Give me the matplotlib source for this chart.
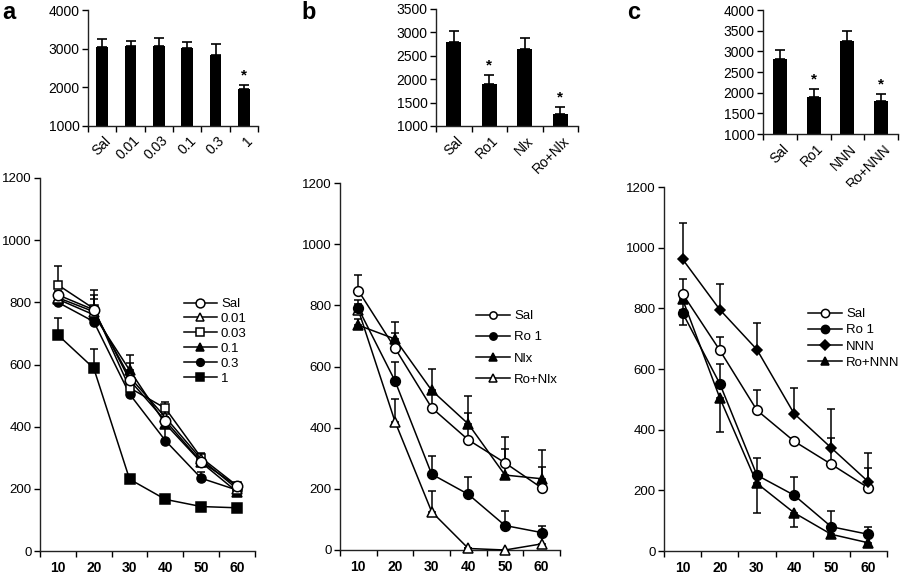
import numpy as np
import matplotlib
matplotlib.use("Agg")
import matplotlib.pyplot as plt
import matplotlib.transforms as mtransforms

plt.rcParams['font.family'] = ['Liberation Sans', 'DejaVu Sans']

# ---------------- data ----------------
time_labels = ['10', '20', '30', '40', '50', '60']

# panel a bars
a_bar_labels = ['Sal', '0.01', '0.03', '0.1', '0.3', '1']
a_bar_values = [3050, 3075, 3075, 3020, 2825, 1950]
a_bar_err = [200, 120, 205, 140, 300, 110]
a_bar_star = [False, False, False, False, False, True]

# panel b bars
b_bar_labels = ['Sal', 'Ro1', 'Nlx', 'Ro+Nlx']
b_bar_values = [2805, 1895, 2640, 1250]
b_bar_err = [215, 200, 250, 158]
b_bar_star = [False, True, False, True]

# panel c bars
c_bar_labels = ['Sal', 'Ro1', 'NNN', 'Ro+NNN']
c_bar_values = [2818, 1900, 3244, 1796]
c_bar_err = [217, 194, 241, 169]
c_bar_star = [False, True, False, True]

# panel a lines (upper error only)
a_sal = [824, 776, 550, 419, 287, 209]
a_001 = [815, 770, 560, 430, 295, 200]
a_003 = [856, 780, 525, 459, 300, 210]
a_01 = [810, 760, 582, 409, 285, 190]
a_03 = [800, 738, 505, 355, 234, 196]
a_1 = [695, 588, 231, 166, 143, 139]
a_sal_err = [12, 46, 12, 12, 12, 10]
a_001_err = [12, 40, 44, 12, 19, 10]
a_003_err = [60, 60, 12, 21, 12, 10]
a_01_err = [12, 12, 50, 12, 12, 10]
a_03_err = [12, 12, 12, 40, 21, 10]
a_1_err = [54, 61, 10, 10, 10, 10]

# panel b lines (upper error only)
b_sal = [848, 660, 465, 360, 285, 203]
b_ro1 = [790, 553, 248, 182, 80, 57]
b_nlx = [735, 690, 522, 412, 245, 233]
b_ronlx = [785, 420, 125, 5, 0, 20]
b_sal_err = [50, 50, 55, 87, 44, 70]
b_ro1_err = [28, 61, 60, 58, 49, 23]
b_nlx_err = [20, 55, 70, 91, 125, 95]
b_ronlx_err = [20, 74, 69, 0, 0, 29]

# panel c lines (Ro+NNN lower error, others upper)
c_sal = [848, 662, 464, 362, 286, 208]
c_ro1 = [785, 552, 250, 184, 80, 55]
c_nnn = [962, 796, 664, 453, 340, 228]
c_ronnn = [830, 505, 223, 126, 55, 27]
c_sal_err = [50, 44, 68, 10, 87, 66]
c_ro1_err = [10, 63, 58, 59, 52, 25]
c_nnn_err = [119, 83, 88, 85, 127, 94]
c_ronnn_err = [86, 114, 97, 46, 10, 10]

# ---------------- figure ----------------
W, H = 900, 577
fig = plt.figure(figsize=(9, 5.77), dpi=100)


def px_axes(left, right, top, bottom):
    return fig.add_axes([left / W, 1 - bottom / H, (right - left) / W, (bottom - top) / H])


def style_axes(ax, ysize=9.5):
    for s in ['top', 'right']:
        ax.spines[s].set_visible(False)
    for s in ['left', 'bottom']:
        ax.spines[s].set_linewidth(1.0)
        ax.spines[s].set_color('#222222')
    ax.tick_params(axis='y', direction='out', length=4, width=1, labelsize=ysize, pad=2)


def bar_panel(ax, labels, values, err, stars, ymin, ymax, ystep):
    n = len(labels)
    x = np.arange(n)
    ax.bar(x, values, width=0.42, color='black', zorder=2)
    ax.errorbar(x, values, yerr=[np.zeros(n), err], fmt='none', ecolor='black',
                elinewidth=1.2, capsize=3.5, capthick=1.2, zorder=3)
    for xi, v, e, s in zip(x, values, err, stars):
        if s:
            ax.annotate('*', (xi, v + e), xytext=(0, 2), textcoords='offset points',
                        ha='center', va='bottom', fontsize=11, fontweight='bold')
    ax.set_xlim(-0.5, n - 0.5)
    ax.set_ylim(ymin, ymax)
    ax.set_yticks(np.arange(ymin, ymax + 1, ystep))
    style_axes(ax, ysize=10)
    ax.set_xticks(np.arange(-0.5, n, 1.0))
    ax.set_xticklabels([])
    ax.tick_params(axis='x', which='major', direction='out', length=4, width=1)
    ax.set_xticks(x, minor=True)
    ax.set_xticklabels(labels, minor=True, rotation=45, ha='right', va='center',
                       rotation_mode='anchor', fontsize=10)
    ax.tick_params(axis='x', which='minor', length=0, pad=9)
    off = mtransforms.ScaledTranslation(7 / 100, 0, fig.dpi_scale_trans)
    for lab in ax.get_xticklabels(minor=True):
        lab.set_transform(lab.get_transform() + off)


def line_panel(ax):
    n = len(time_labels)
    ax.set_xlim(-0.5, n - 0.5)
    ax.set_ylim(0, 1200)
    ax.set_yticks(np.arange(0, 1201, 200))
    style_axes(ax)
    ax.set_xticks(np.arange(-0.5, n, 1.0))
    ax.set_xticklabels([])
    ax.tick_params(axis='x', which='major', direction='out', length=4, width=1)
    ax.set_xticks(np.arange(n), minor=True)
    ax.set_xticklabels(time_labels, minor=True, fontsize=10, fontweight='bold')
    ax.tick_params(axis='x', which='minor', length=0, pad=7)


def series(ax, y, err, marker, filled, label, ms=6.5, lower=False, z=3):
    n = len(y)
    x = np.arange(n)
    yerr = [err, np.zeros(n)] if lower else [np.zeros(n), err]
    ax.errorbar(x, y, yerr=yerr, fmt='none', ecolor='black', elinewidth=1.1,
                capsize=3.2, capthick=1.1, zorder=z, clip_on=False)
    ax.plot(x, y, color='black', lw=1.1, marker=marker, ms=ms,
            mfc='black' if filled else 'white', mec='black', mew=1.1,
            label=label, zorder=z + 1, clip_on=False)


def add_legend(ax, order, x0, y0, spacing, hl=2.4, ms_scale=0.85):
    h, l = ax.get_legend_handles_labels()
    hd = dict(zip(l, h))
    ax.legend([hd[k] for k in order], order, loc='upper left',
              bbox_to_anchor=(x0 / W, 1 - y0 / H), bbox_transform=fig.transFigure,
              frameon=False, fontsize=9.5, handlelength=hl, handletextpad=0.3,
              labelspacing=spacing, borderaxespad=0, borderpad=0, markerscale=ms_scale)


# top bar panels
ax_a1 = px_axes(88, 258, 10, 126)
bar_panel(ax_a1, a_bar_labels, a_bar_values, a_bar_err, a_bar_star, 1000, 4000, 1000)
ax_b1 = px_axes(436, 578, 9, 126)
bar_panel(ax_b1, b_bar_labels, b_bar_values, b_bar_err, b_bar_star, 1000, 3500, 500)
ax_c1 = px_axes(763, 898, 10, 134)
bar_panel(ax_c1, c_bar_labels, c_bar_values, c_bar_err, c_bar_star, 1000, 4000, 500)

# lower line panels
ax_a2 = px_axes(40, 255, 178, 551)
line_panel(ax_a2)
series(ax_a2, a_1, a_1_err, 's', True, '1')
series(ax_a2, a_03, a_03_err, 'o', True, '0.3')
series(ax_a2, a_01, a_01_err, '^', True, '0.1')
series(ax_a2, a_003, a_003_err, 's', False, '0.03', ms=6)
series(ax_a2, a_001, a_001_err, '^', False, '0.01')
series(ax_a2, a_sal, a_sal_err, 'o', False, 'Sal', ms=7.5)
add_legend(ax_a2, ['Sal', '0.01', '0.03', '0.1', '0.3', '1'], 184, 298, 0.2, hl=2.5)

ax_b2 = px_axes(340, 560, 183, 550)
line_panel(ax_b2)
series(ax_b2, b_ronlx, b_ronlx_err, '^', False, 'Ro+Nlx', ms=7)
series(ax_b2, b_ro1, b_ro1_err, 'o', True, 'Ro 1', ms=7)
series(ax_b2, b_nlx, b_nlx_err, '^', True, 'Nlx', ms=7)
series(ax_b2, b_sal, b_sal_err, 'o', False, 'Sal', ms=7)
add_legend(ax_b2, ['Sal', 'Ro 1', 'Nlx', 'Ro+Nlx'], 476, 310, 0.68, hl=2.6, ms_scale=0.75)

ax_c2 = px_axes(664, 887, 187, 551)
line_panel(ax_c2)
series(ax_c2, c_ronnn, c_ronnn_err, '^', True, 'Ro+NNN', ms=7, lower=True)
series(ax_c2, c_ro1, c_ro1_err, 'o', True, 'Ro 1', ms=7)
series(ax_c2, c_sal, c_sal_err, 'o', False, 'Sal', ms=7)
series(ax_c2, c_nnn, c_nnn_err, 'D', True, 'NNN', ms=5.5)
add_legend(ax_c2, ['Sal', 'Ro 1', 'NNN', 'Ro+NNN'], 808, 308, 0.3, hl=2.6)

# panel letters
fig.text(2 / W, 1 - 1 / H, 'a', fontsize=17, fontweight='bold', ha='left', va='top')
fig.text(301 / W, 1 - 1 / H, 'b', fontsize=17, fontweight='bold', ha='left', va='top')
fig.text(627 / W, 1 - 1 / H, 'c', fontsize=17, fontweight='bold', ha='left', va='top')

fig.savefig('out.png', dpi=100)
